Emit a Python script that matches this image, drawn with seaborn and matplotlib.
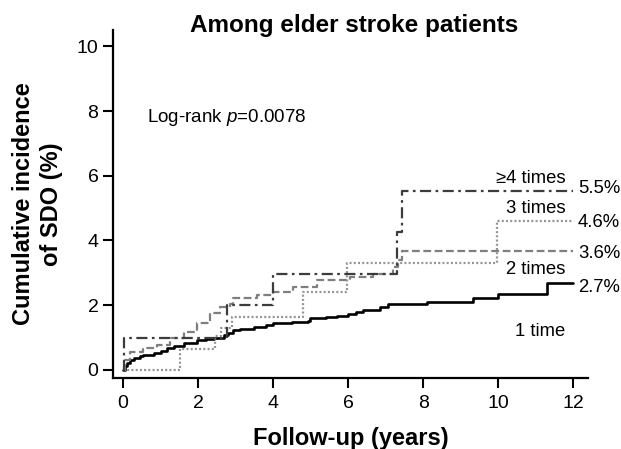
import numpy as np
import pandas as pd
import matplotlib
matplotlib.use("Agg")
import matplotlib.pyplot as plt
import seaborn as sns

# follow-up time (years) and cumulative incidence (%)
t_1time = [0, 0.05, 0.1, 0.19, 0.3, 0.45, 0.54, 0.81, 1.0, 1.16, 1.35, 1.61, 1.96,
           2.2, 2.41, 2.68, 2.8, 2.94, 3.12, 3.48, 3.8, 4.0, 4.5, 4.93, 4.98, 5.4,
           5.7, 6.0, 6.2, 6.4, 6.85, 7.07, 8.1, 9.33, 10.0, 11.3, 12.0]
y_1time = [0, 0.12, 0.22, 0.31, 0.38, 0.44, 0.46, 0.51, 0.58, 0.67, 0.74, 0.84, 0.93,
           0.95, 0.98, 1.08, 1.15, 1.23, 1.27, 1.34, 1.40, 1.45, 1.48, 1.52, 1.59, 1.63,
           1.67, 1.74, 1.80, 1.85, 1.94, 2.03, 2.11, 2.23, 2.34, 2.68, 2.68]

t_2times = [0, 0.05, 0.19, 0.54, 0.9, 1.25, 1.61, 1.96, 2.32, 2.59, 2.85, 2.94, 3.57,
            4.0, 4.53, 5.16, 6.05, 6.67, 7.2, 7.34, 7.43, 12.0]
y_2times = [0, 0.30, 0.57, 0.67, 0.77, 0.98, 1.18, 1.44, 1.75, 1.95, 2.05, 2.21, 2.31,
            2.42, 2.57, 2.78, 2.88, 2.98, 3.19, 3.39, 3.67, 3.67]

t_3times = [0, 1.52, 2.45, 2.6, 2.9, 4.81, 5.97, 9.96, 12.0]
y_3times = [0, 0.65, 1.05, 1.30, 1.65, 2.42, 3.29, 4.60, 4.60]

t_4times = [0, 0.03, 2.77, 4.0, 7.3, 7.43, 12.0]
y_4times = [0, 1.00, 2.00, 2.98, 4.27, 5.53, 5.53]

group_labels = ["1 time", "2 times", "3 times", "\u22654 times"]
final_labels = ["2.7%", "3.6%", "4.6%", "5.5%"]

sns.set_style("ticks")
plt.rcParams['font.family'] = ['Liberation Sans', 'DejaVu Sans']
plt.rcParams['mathtext.fontset'] = 'custom'
plt.rcParams['mathtext.it'] = 'Liberation Sans:italic'
plt.rcParams['mathtext.rm'] = 'Liberation Sans'
plt.rcParams['text.color'] = 'black'
plt.rcParams['axes.labelcolor'] = 'black'
plt.rcParams['xtick.color'] = 'black'
plt.rcParams['ytick.color'] = 'black'

fig = plt.figure(figsize=(6.21, 4.49), dpi=100)
ax = fig.add_axes([0.182, 0.158, 0.765, 0.775])

series = [
    (t_1time, y_1time, dict(color='black', lw=1.9, linestyle='-')),
    (t_2times, y_2times, dict(color='#7f7f7f', lw=1.6, linestyle=(0, (3.5, 1.6)))),
    (t_3times, y_3times, dict(color='#939393', lw=1.6, linestyle=(0, (0.9, 1.0)))),
    (t_4times, y_4times, dict(color='#3c3c3c', lw=1.6, linestyle=(0, (5, 2, 1.2, 2)))),
]
for t, y, kw in series:
    sns.lineplot(x=t, y=y, ax=ax, drawstyle='steps-post', estimator=None, sort=False, **kw)

ax.set_xlim(-0.27, 12.4)
ax.set_ylim(-0.25, 10.5)
ax.set_xticks(np.arange(0, 13, 2))
ax.set_yticks(np.arange(0, 11, 2))
ax.tick_params(labelsize=14, length=7, width=1.5, color='black', labelcolor='black')
ax.tick_params(axis='x', pad=5)
for s in ['top', 'right']:
    ax.spines[s].set_visible(False)
for s in ['left', 'bottom']:
    ax.spines[s].set_linewidth(1.6)
    ax.spines[s].set_color('black')

ax.set_xlabel("Follow-up (years)", fontsize=17, fontweight='bold', labelpad=11)
ax.set_ylabel("Cumulative incidence\nof SDO (%)", fontsize=17, fontweight='bold',
              linespacing=1.3)
ax.yaxis.set_label_coords(-0.105, 0.5)

fig.text(0.57, 1 - 32 / 449, "Among elder stroke patients", ha='center', va='baseline',
         fontsize=17.5, fontweight='bold')
ax.text(0.64, 7.65, "Log-rank $p$=0.0078", fontsize=13.5, va='baseline')

# group names and final incidence at end of follow-up
label_y = [1.2, 3.09, 5.0, 5.93]
pct_y = [2.56, 3.61, 4.57, 5.62]
for name, ly in zip(group_labels, label_y):
    ax.text(11.8, ly, name, ha='right', va='center', fontsize=13.3)
for pct, py in zip(final_labels, pct_y):
    ax.text(12.13, py, pct, ha='left', va='center', fontsize=13.3, clip_on=False)

fig.savefig("out.png", dpi=100)
